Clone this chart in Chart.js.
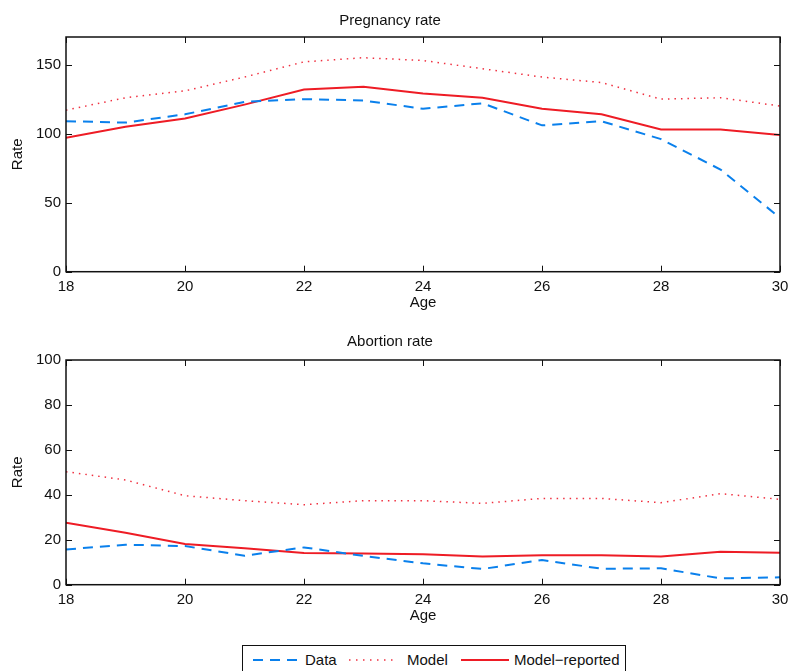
<!DOCTYPE html>
<html>
<head>
<meta charset="utf-8">
<script src="https://cdn.jsdelivr.net/npm/chart.js@4.4.1/dist/chart.umd.min.js"></script>
<style>
  html, body { margin: 0; padding: 0; background: #fff; overflow: hidden; }
  body { width: 790px; height: 671px; position: relative; font-family: 'Liberation Sans', Arial, sans-serif; }
  #c1 { position: absolute; left: 0; top: 0; }
  #c2 { position: absolute; left: 0; top: 330px; }
  .legend { position: absolute; left: 242px; top: 645px; width: 384px; height: 40px; border: 1.5px solid #111; box-sizing: border-box; background: #fff; }
  .legend svg { position: absolute; top: 0; }
  .legend span { position: absolute; top: 5px; font-size: 15px; color: #111; line-height: 18px; white-space: nowrap; }
</style>
</head>
<body>
<canvas id="c1" width="790" height="330"></canvas>
<canvas id="c2" width="790" height="300"></canvas>

<div class="legend">
  <svg style="left:9px" width="48" height="30"><line x1="1" y1="14" x2="47" y2="14" stroke="#0a80ec" stroke-width="2" stroke-dasharray="10 7"/></svg>
  <span style="left:62px">Data</span>
  <svg style="left:105px" width="48" height="30"><line x1="1" y1="14" x2="47" y2="14" stroke="#f03040" stroke-width="1.5" stroke-dasharray="1.5 5.5"/></svg>
  <span style="left:164px">Model</span>
  <svg style="left:217px" width="50" height="30"><line x1="1" y1="14" x2="49" y2="14" stroke="#ee1c25" stroke-width="2"/></svg>
  <span style="left:271px">Model−reported</span>
</div>

<script>
// 年齡 (x 軸)
const ages = [18, 19, 20, 21, 22, 23, 24, 25, 26, 27, 28, 29, 30];

// Pregnancy rate
const pregData     = [109, 108, 114, 123, 125, 124, 118, 122, 106, 109, 96, 74, 39];
const pregModel    = [117, 126, 131, 141, 152, 155, 153, 147, 141, 137, 125, 126, 120];
const pregReported = [97, 105, 111, 121, 132, 134, 129, 126, 118, 114, 103, 103, 99];

// Abortion rate
const abortData     = [15.7, 17.8, 17.2, 12.9, 16.6, 12.8, 9.5, 7.0, 11.0, 7.1, 7.3, 2.8, 3.3];
const abortModel    = [50.3, 46.6, 39.6, 37.4, 35.6, 37.4, 37.4, 36.2, 38.4, 38.4, 36.5, 40.5, 38.0];
const abortReported = [27.6, 23.1, 18.1, 16.2, 14.1, 13.9, 13.5, 12.5, 13.1, 13.1, 12.5, 14.7, 14.2];

const xTicks = [18, 20, 22, 24, 26, 28, 30];

const BLUE = '#0a80ec';
const RED = '#ee1c25';
const DOT = '#f03040';
const FONT = "'Liberation Sans', Arial, sans-serif";

const toPoints = (vals) => vals.map((v, i) => ({ x: ages[i], y: v }));

// 畫外框 + 內向刻度 (MATLAB 風格)
const boxPlugin = {
  id: 'box',
  afterDraw(chart) {
    const { ctx, chartArea: a, scales } = chart;
    const len = 6;
    ctx.save();
    ctx.strokeStyle = '#111';
    ctx.lineWidth = 1;
    scales.x.ticks.forEach(t => {
      const px = Math.round(scales.x.getPixelForValue(t.value)) + 0.5;
      ctx.beginPath();
      ctx.moveTo(px, a.bottom); ctx.lineTo(px, a.bottom - len);
      ctx.moveTo(px, a.top); ctx.lineTo(px, a.top + len);
      ctx.stroke();
    });
    scales.y.ticks.forEach(t => {
      const py = Math.round(scales.y.getPixelForValue(t.value)) + 0.5;
      ctx.beginPath();
      ctx.moveTo(a.left, py); ctx.lineTo(a.left + len, py);
      ctx.moveTo(a.right, py); ctx.lineTo(a.right - len, py);
      ctx.stroke();
    });
    ctx.lineWidth = 1.5;
    ctx.strokeRect(a.left, a.top, a.right - a.left, a.bottom - a.top);
    ctx.restore();
  }
};

function makeChart(id, cfg) {
  return new Chart(document.getElementById(id), {
    type: 'line',
    data: {
      datasets: [
        { label: 'Data', data: toPoints(cfg.data), borderColor: BLUE, borderWidth: 2, borderDash: [10, 7] },
        { label: 'Model', data: toPoints(cfg.model), borderColor: DOT, borderWidth: 1.5, borderDash: [1.5, 5] },
        { label: 'Model−reported', data: toPoints(cfg.reported), borderColor: RED, borderWidth: 2 }
      ]
    },
    options: {
      responsive: false,
      animation: false,
      elements: { point: { radius: 0 }, line: { tension: 0, fill: false } },
      layout: { padding: { left: 0, right: 10, top: 0, bottom: 0 } },
      plugins: {
        legend: { display: false },
        tooltip: { enabled: false },
        title: {
          display: true,
          text: cfg.title,
          color: '#111',
          font: { family: FONT, size: 15, weight: 'normal', lineHeight: 1.2 },
          padding: cfg.titlePad
        }
      },
      scales: {
        x: {
          type: 'linear',
          min: 18, max: 30,
          grid: { display: false, drawTicks: false },
          border: { display: false },
          afterBuildTicks: (s) => { s.ticks = xTicks.map(v => ({ value: v })); },
          afterFit: (s) => { s.height = cfg.xHeight; s.paddingLeft = 0; s.paddingRight = 0; },
          ticks: { color: '#111', padding: 6, maxRotation: 0, font: { family: FONT, size: 15 } },
          title: { display: true, text: 'Age', color: '#111', font: { family: FONT, size: 15 }, padding: { top: 0, bottom: cfg.agePad } }
        },
        y: {
          min: 0, max: cfg.yMax,
          grid: { display: false, drawTicks: false },
          border: { display: false },
          afterBuildTicks: (s) => { s.ticks = cfg.yTicks.map(v => ({ value: v })); },
          afterFit: (s) => { s.width = 66; s.paddingTop = 0; s.paddingBottom = 0; },
          ticks: { color: '#111', padding: 5, font: { family: FONT, size: 15 } },
          title: { display: true, text: 'Rate', color: '#111', font: { family: FONT, size: 15 }, padding: { top: 9, bottom: 0 } }
        }
      }
    },
    plugins: [boxPlugin]
  });
}

makeChart('c1', {
  title: 'Pregnancy rate',
  titlePad: { top: 11.5, bottom: 7.5 },
  data: pregData, model: pregModel, reported: pregReported,
  yMax: 170, yTicks: [0, 50, 100, 150],
  xHeight: 58.3, agePad: 18.5
});

makeChart('c2', {
  title: 'Abortion rate',
  titlePad: { top: 3, bottom: 9 },
  data: abortData, model: abortModel, reported: abortReported,
  yMax: 100, yTicks: [0, 20, 40, 60, 80, 100],
  xHeight: 45.3, agePad: 5
});
</script>
</body>
</html>
